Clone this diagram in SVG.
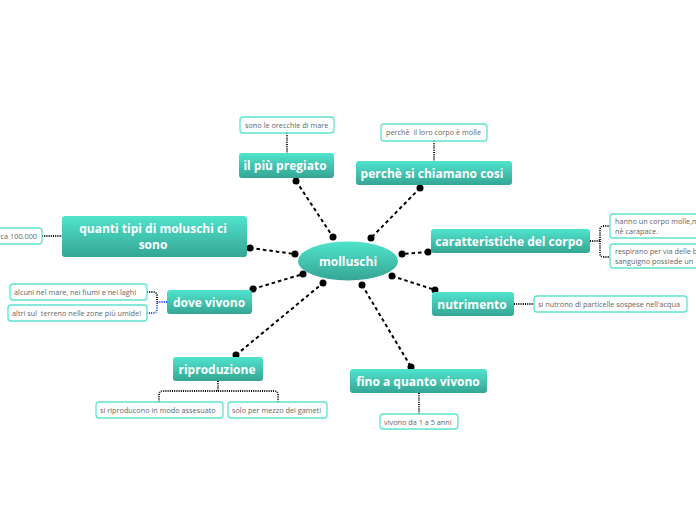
<svg xmlns="http://www.w3.org/2000/svg" width="696" height="520" viewBox="0 0 696 520">
<defs>
<linearGradient id="g" x1="0" y1="0" x2="0" y2="1">
<stop offset="0" stop-color="#50e4cd"/>
<stop offset="1" stop-color="#35a594"/>
</linearGradient>
<style>
.n{fill:url(#g);}
.nt{font-family:"Open Sans","Noto Sans",sans-serif;font-weight:bold;font-size:12px;fill:#fff;text-anchor:middle;}
.l{fill:#fff;stroke:#5fe3d0;stroke-width:1.3;}
.lt{font-family:"Open Sans","Noto Sans",sans-serif;font-size:7.3px;fill:#666;}
.c{stroke:#000;stroke-width:2;stroke-dasharray:3.5 3;fill:none;}
.d{stroke:#000;stroke-width:1.8;stroke-dasharray:1 1.2;fill:none;}
.b{stroke:#1a3cff;stroke-width:1.8;stroke-dasharray:1 1.2;fill:none;}
.p{fill:#000;}
</style>
</defs>
<rect width="696" height="520" fill="#fff"/>
<g id="connectors">
<line class="c" x1="296" y1="181" x2="333" y2="237"/>
<line class="c" x1="250" y1="248" x2="295" y2="254"/>
<line class="c" x1="253" y1="289" x2="303" y2="274"/>
<line class="c" x1="236" y1="355" x2="323" y2="283"/>
<line class="c" x1="420" y1="188" x2="371" y2="238"/>
<line class="c" x1="428" y1="252" x2="402" y2="254"/>
<line class="c" x1="392" y1="276" x2="435" y2="290"/>
<line class="c" x1="362" y1="285" x2="411" y2="367"/>
<g class="p">
<circle cx="296" cy="181" r="3.5"/><circle cx="333" cy="237" r="3.5"/>
<circle cx="250" cy="248" r="3.5"/><circle cx="295" cy="254" r="3.5"/>
<circle cx="253" cy="289" r="3.5"/><circle cx="303" cy="274" r="3.5"/>
<circle cx="236" cy="355" r="3.5"/><circle cx="323" cy="283" r="3.5"/>
<circle cx="420" cy="188" r="3.5"/><circle cx="371" cy="238" r="3.5"/>
<circle cx="428" cy="252" r="3.5"/><circle cx="402" cy="254" r="3.5"/>
<circle cx="392" cy="276" r="3.5"/><circle cx="435" cy="290" r="3.5"/>
<circle cx="362" cy="285" r="3.5"/><circle cx="411" cy="367" r="3.5"/>
</g>
<line class="d" x1="287" y1="133" x2="287" y2="153"/>
<line class="d" x1="434" y1="141" x2="434" y2="161"/>
<line class="d" x1="42" y1="236" x2="62" y2="236"/>
<line class="d" x1="514" y1="304" x2="534" y2="304"/>
<line class="d" x1="419" y1="393" x2="419" y2="414"/>
<path class="d" d="M218,381 V391 H163 Q159,391 159,395 V402 M218,391 H274 Q278,391 278,395 V402"/>
<path class="d" d="M590,241 H600 V230 Q600,226 604,226 H610 M600,241 V253 Q600,257 604,257 H610"/>
<path class="d" d="M147,292 H153 Q157,292 157,296 V302"/>
<path class="b" d="M167,302 H157 V309 Q157,313 153,313 H147"/>
</g>
<g id="molluschi">
<ellipse class="n" cx="348" cy="261" rx="50" ry="19.5"/>
<text class="nt" x="348" y="266" font-size="12.5">molluschi</text>
</g>
<g id="il-piu-pregiato">
<rect class="n" x="239" y="153" width="95" height="25" rx="3"/>
<text class="nt" x="285" y="170">il più pregiato</text>
</g>
<g id="leaf-orecchie">
<rect class="l" x="240" y="117" width="94" height="16" rx="3"/>
<text class="lt" x="245" y="128">sono le orecchie di mare</text>
</g>
<g id="quanti-tipi">
<rect class="n" x="62" y="216" width="185" height="41" rx="3"/>
<text class="nt" x="153" y="233">quanti tipi di moluschi ci</text>
<text class="nt" x="153" y="249">sono</text>
</g>
<g id="leaf-circa">
<rect class="l" x="-20" y="228" width="62" height="16" rx="3"/>
<text class="lt" x="37" y="239" text-anchor="end">circa 100.000</text>
</g>
<g id="dove-vivono">
<rect class="n" x="167" y="290" width="85" height="24" rx="3"/>
<text class="nt" x="209" y="307">dove vivono</text>
</g>
<g id="leaf-alcuni">
<rect class="l" x="10" y="284" width="137" height="16" rx="3"/>
<text class="lt" x="14" y="295">alcuni nel mare, nei fiumi e nei laghi</text>
</g>
<g id="leaf-altri">
<rect class="l" x="8" y="305" width="139" height="16" rx="3"/>
<text class="lt" x="12" y="316" xml:space="preserve">altri sul  terreno nelle zone più umide!</text>
</g>
<g id="riproduzione">
<rect class="n" x="173" y="357" width="90" height="24" rx="3"/>
<text class="nt" x="217" y="374">riproduzione</text>
</g>
<g id="leaf-assesuato">
<rect class="l" x="96" y="402" width="127" height="16" rx="3"/>
<text class="lt" x="100" y="413">si riproducono in modo assesuato</text>
</g>
<g id="leaf-gameti">
<rect class="l" x="228" y="402" width="99" height="16" rx="3"/>
<text class="lt" x="232" y="413">solo per mezzo dei gameti</text>
</g>
<g id="perche">
<rect class="n" x="356" y="161" width="156" height="24" rx="3"/>
<text class="nt" x="432" y="178">perchè si chiamano cosi</text>
</g>
<g id="leaf-molle">
<rect class="l" x="381" y="124" width="106" height="17" rx="3"/>
<text class="lt" x="386" y="135" xml:space="preserve">perchè  il loro corpo è molle</text>
</g>
<g id="caratteristiche">
<rect class="n" x="431" y="229" width="159" height="24" rx="3"/>
<text class="nt" x="509" y="246">caratteristiche del corpo</text>
</g>
<g id="leaf-hanno">
<rect class="l" x="610" y="214" width="100" height="24" rx="3"/>
<text class="lt" x="615" y="224">hanno un corpo molle,ne</text>
<text class="lt" x="615" y="234">nè carapace.</text>
</g>
<g id="leaf-respirano">
<rect class="l" x="610" y="244" width="100" height="24" rx="3"/>
<text class="lt" x="615" y="254">respirano per via delle b</text>
<text class="lt" x="615" y="264">sanguigno possiede un</text>
</g>
<g id="nutrimento">
<rect class="n" x="432" y="292" width="82" height="24" rx="3"/>
<text class="nt" x="472" y="309">nutrimento</text>
</g>
<g id="leaf-nutrono">
<rect class="l" x="534" y="296" width="153" height="16" rx="3"/>
<text class="lt" x="538" y="307">si nutrono di particelle sospese nell'acqua</text>
</g>
<g id="fino">
<rect class="n" x="350" y="369" width="137" height="24" rx="3"/>
<text class="nt" x="418" y="386">fino a quanto vivono</text>
</g>
<g id="leaf-anni">
<rect class="l" x="380" y="414" width="78" height="15" rx="3"/>
<text class="lt" x="384" y="425">vivono da 1 a 5 anni</text>
</g>
</svg>
